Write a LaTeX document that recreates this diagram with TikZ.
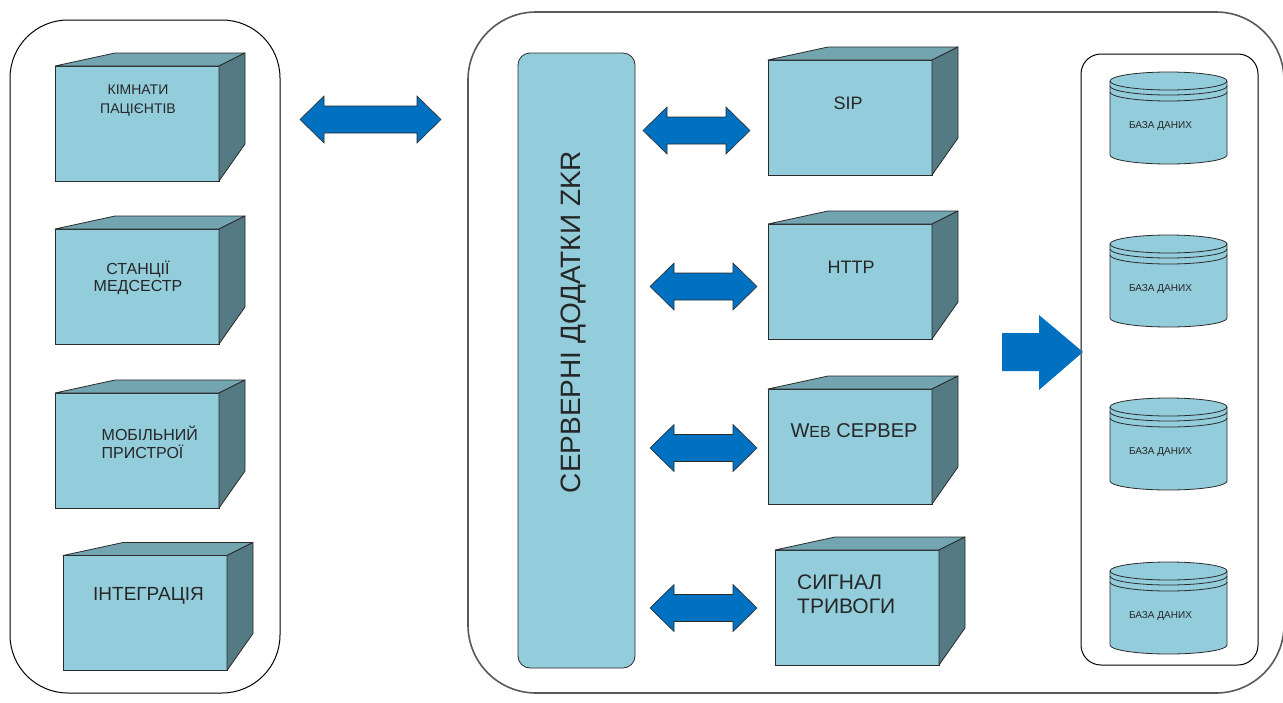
\documentclass[tikz,border=0pt]{standalone}
\usepackage{fontspec}
\setmainfont{Liberation Sans}
\usetikzlibrary{positioning,calc}
\definecolor{boxfront}{HTML}{93CDDC}
\definecolor{boxtop}{HTML}{72A5B0}
\definecolor{boxside}{HTML}{547A83}
\definecolor{arrblue}{HTML}{0070C0}
\definecolor{edge}{HTML}{2B2B2B}
\tikzset{
  panel/.style={draw, rounded corners=#1, line width=1pt},
  front/.style={draw=edge, fill=boxfront, minimum width=164pt, minimum height=115pt, inner sep=0pt, outer sep=0pt, line width=0.8pt},
  topface/.style={draw=edge, fill=boxtop, line width=0.8pt, line join=round},
  sideface/.style={draw=edge, fill=boxside, line width=0.8pt, line join=round},
  txt/.style={align=center, inner sep=0pt, text=black!85},
  twoway/.style={draw=edge, fill=arrblue, line width=0.6pt},
  db/.style={draw=edge, fill=boxfront, line width=0.8pt}
}
% top and right faces of a box
\newcommand{\cubefaces}[1]{%
  \filldraw[topface] (#1.north west) -- ++(60,-13) -- ($(#1.north east)+(26,-13)$) -- (#1.north east) -- cycle;
  \filldraw[sideface] (#1.north east) -- ++(26,-13) -- ($(#1.south east)+(26,-37)$) -- (#1.south east) -- cycle;}
% block arrow with two heads: centre, half length
\newcommand{\dblarrow}[2]{%
  \draw[twoway] ($(#1)+(-#2,0)$) -- ++(24,-23.5) -- ++(0,10) -- ++({2*#2-48},0) -- ++(0,-10) -- ++(24,23.5)
    -- ++(-24,23.5) -- ++(0,-10) -- ++({48-2*#2},0) -- ++(0,10) -- cycle;}

\begin{document}
\begin{tikzpicture}[x=1pt,y=-1pt]
\useasboundingbox (0,0) rectangle (1283,702);
\clip (0,0) rectangle (1283,702);

% frames
\draw[panel=58pt] (10,20) rectangle (280,693);
\draw[panel=68pt, draw=gray!70!black, line width=1.6pt] (468,12) rectangle (1284,693);
\draw[panel=20pt] (1081,54) rectangle (1258,665);

% clients
\node[front] (rooms) at (137,123.5) {};
\node[front, below=48pt of rooms] (nurses) {};
\node[front, below=49pt of nurses] (mobile) {};
\node[front] (integr) at (145,613) {};
\foreach \b in {rooms,nurses,mobile,integr} \cubefaces{\b};
\node[txt, font=\fontsize{14}{18.5}\selectfont] (rooms-t) at (138,100.5) {КІМНАТИ\\ПАЦІЄНТІВ};
\node[txt, font=\fontsize{16}{17}\selectfont] (nurses-t) at (138,277.5) {СТАНЦІЇ\\МЕДСЕСТР};
\node[txt, align=left, anchor=west, font=\fontsize{16}{17.5}\selectfont] (mobile-t) at (101.5,442.5) {МОБІЛЬНИЙ\\ПРИСТРОЇ};
\node[txt, font=\fontsize{19}{20}\selectfont] (integr-t) at (148.5,596) {ІНТЕГРАЦІЯ};

\coordinate (link) at (370.5,119.5);
\dblarrow{link}{70.5}

% application server
\node[draw=edge, fill=boxfront, line width=0.8pt, rounded corners=12pt, minimum width=117pt, minimum height=615pt] (zkr) at (576.5,360.5) {};
\node[txt, rotate=90, font=\fontsize{28}{30}\selectfont] (zkr-t) at (574,322) {СЕРВЕРНІ ДОДАТКИ ZKR};

\node[front] (sip) at (850,117.5) {};
\node[front, below=49pt of sip] (http) {};
\node[front, below=50pt of http] (web) {};
\node[front] (alarm) at (857,607.5) {};
\foreach \b in {sip,http,web,alarm} \cubefaces{\b};
\node[txt, font=\fontsize{18}{20}\selectfont] (sip-t) at (848,103) {SIP};
\node[txt, font=\fontsize{18}{20}\selectfont] (http-t) at (851,267) {HTTP};
\node[txt, font=\fontsize{20}{22}\selectfont] (web-t) at (854,431) {W{\fontsize{16}{16}\selectfont EB} СЕРВЕР};
\node[txt, align=left, anchor=west, font=\fontsize{21}{24}\selectfont] (alarm-t) at (797,594) {СИГНАЛ\\ТРИВОГИ};

\coordinate (a1) at (696.5,130.5);
\coordinate (a2) at (703.5,286.5);
\coordinate (a3) at (703.5,448);
\coordinate (a4) at (703.5,608);
\foreach \a in {a1,a2,a3,a4} \dblarrow{\a}{53.5};

% databases
\foreach \i/\cy in {1/81,2/244,3/407,4/571}{
  \coordinate (db\i) at (1168.5,\cy);
  \filldraw[db] ($(db\i)+(-58.5,0)$) -- ++(0,74) arc[start angle=180, end angle=360, x radius=58.5pt, y radius=9pt]
    -- ++(0,-74) arc[start angle=0, end angle=180, x radius=58.5pt, y radius=9pt] -- cycle;
  \foreach \d in {0,5,11}
    \draw[db, fill=none] ($(db\i)+(-58.5,\d)$) arc[start angle=180, end angle=360, x radius=58.5pt, y radius=9pt];
  \node[txt, font=\fontsize{10}{10}\selectfont] (db\i-t) at ($(db\i)+(-8,45)$) {БАЗА ДАНИХ};
}

\coordinate (push) at (1002,352);
\fill[arrblue] (push) ++(0,-19) -- ++(37,0) -- ++(0,-18) -- ++(44,37) -- ++(-44,38) -- ++(0,-19) -- ++(-37,0) -- cycle;
\end{tikzpicture}
\end{document}
